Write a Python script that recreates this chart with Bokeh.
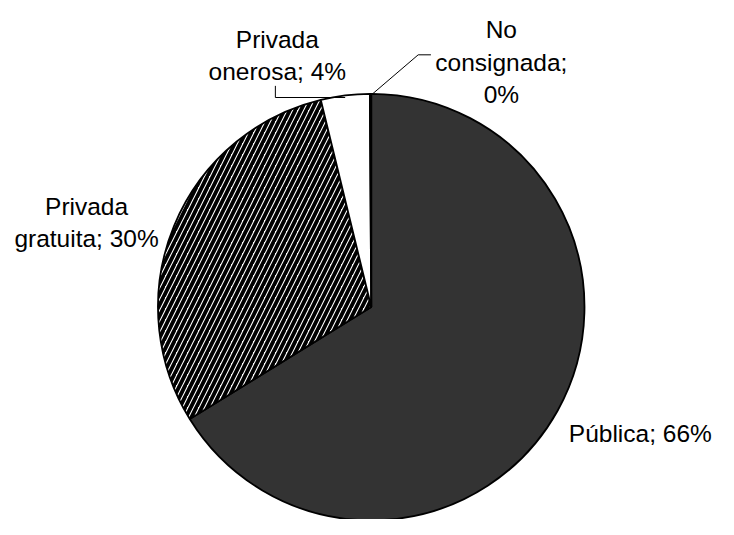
import math
from bokeh.plotting import figure
from bokeh.models import ColumnDataSource, Range1d
from bokeh.core.properties import value
from bokeh.embed import file_html
from bokeh.resources import INLINE

# ---- data ----
categories = ["Pública", "Privada gratuita", "Privada onerosa", "No consignada"]
values = [66.2, 30.0, 3.7, 0.1]
label_templates = ["Pública; {}%", "Privada\ngratuita; {}%", "Privada\nonerosa; {}%", "No\nconsignada;\n{}%"]
fills = ["#333333", "#ffffff", "#ffffff", "#ffffff"]
hatches = [" ", "/", " ", " "]

# ---- layout (reference pixel coords, converted to data coords with y up) ----
W, H = 734, 535
def sy(y):
    return H - y

cx, cy, R = 379, sy(316), 218

total = sum(values)
pcts = [round(v / total * 100) for v in values]
fracs = [v / total for v in values]
cum = [0.0]
for f in fracs:
    cum.append(cum[-1] + f)
start_angles = [math.pi / 2 - cum[i + 1] * 2 * math.pi for i in range(len(values))]
end_angles = [math.pi / 2 - cum[i] * 2 * math.pi for i in range(len(values))]
mid_angles = [math.pi / 2 - (cum[i] + cum[i + 1]) * math.pi for i in range(len(values))]

# page has 8px margin -> figure 718 x 519 fits the 734 x 535 window
p = figure(width=718, height=519, output_backend="svg", toolbar_location=None,
           x_range=Range1d(0, W), y_range=Range1d(0, H),
           min_border=0, outline_line_color=None)
p.axis.visible = False
p.grid.visible = False
p.background_fill_color = "white"
p.border_fill_color = "white"

src = ColumnDataSource(dict(
    x=[cx] * len(values), y=[cy] * len(values),
    start=start_angles, end=end_angles,
    fill=fills, hatch=hatches, cat=categories))
p.wedge(x="x", y="y", radius=R, start_angle="start", end_angle="end",
        source=src, fill_color="fill", line_color="black", line_width=1.8,
        hatch_pattern="hatch", hatch_color="black", hatch_scale=11,
        hatch_weight=3.9)

# leader lines
def arc_pt(a):
    return cx + R * math.cos(a), cy + R * math.sin(a)

mx, my = arc_pt(mid_angles[2])
p.line([mx, 281, 281], [sy(100), sy(100), sy(88)], line_color="black", line_width=1)
nx, ny = arc_pt(mid_angles[3])
p.line([nx, 427, 440], [ny, sy(56), sy(56)], line_color="black", line_width=1)

# labels: (anchor x, first baseline y, align)
anchors = [(581, 446, "left"), (88, 212, "center"), (283, 40, "center"), (512, 30, "center")]
line_gap = 33.5
tx, ty, tt, ta = [], [], [], []
for tmpl, pc, (ax, ay, al) in zip(label_templates, pcts, anchors):
    for k, ln in enumerate(tmpl.format(pc).split("\n")):
        tx.append(ax)
        ty.append(sy(ay + k * line_gap))
        tt.append(ln)
        ta.append(al)
tsrc = ColumnDataSource(dict(x=tx, y=ty, text=tt, align=ta))
p.text(x="x", y="y", text="text", source=tsrc, text_align="align",
       text_baseline="alphabetic", text_font=value("Liberation Sans"),
       text_font_size="24.5px", text_color="black")

open("out.html", "w").write(file_html(p, INLINE))
